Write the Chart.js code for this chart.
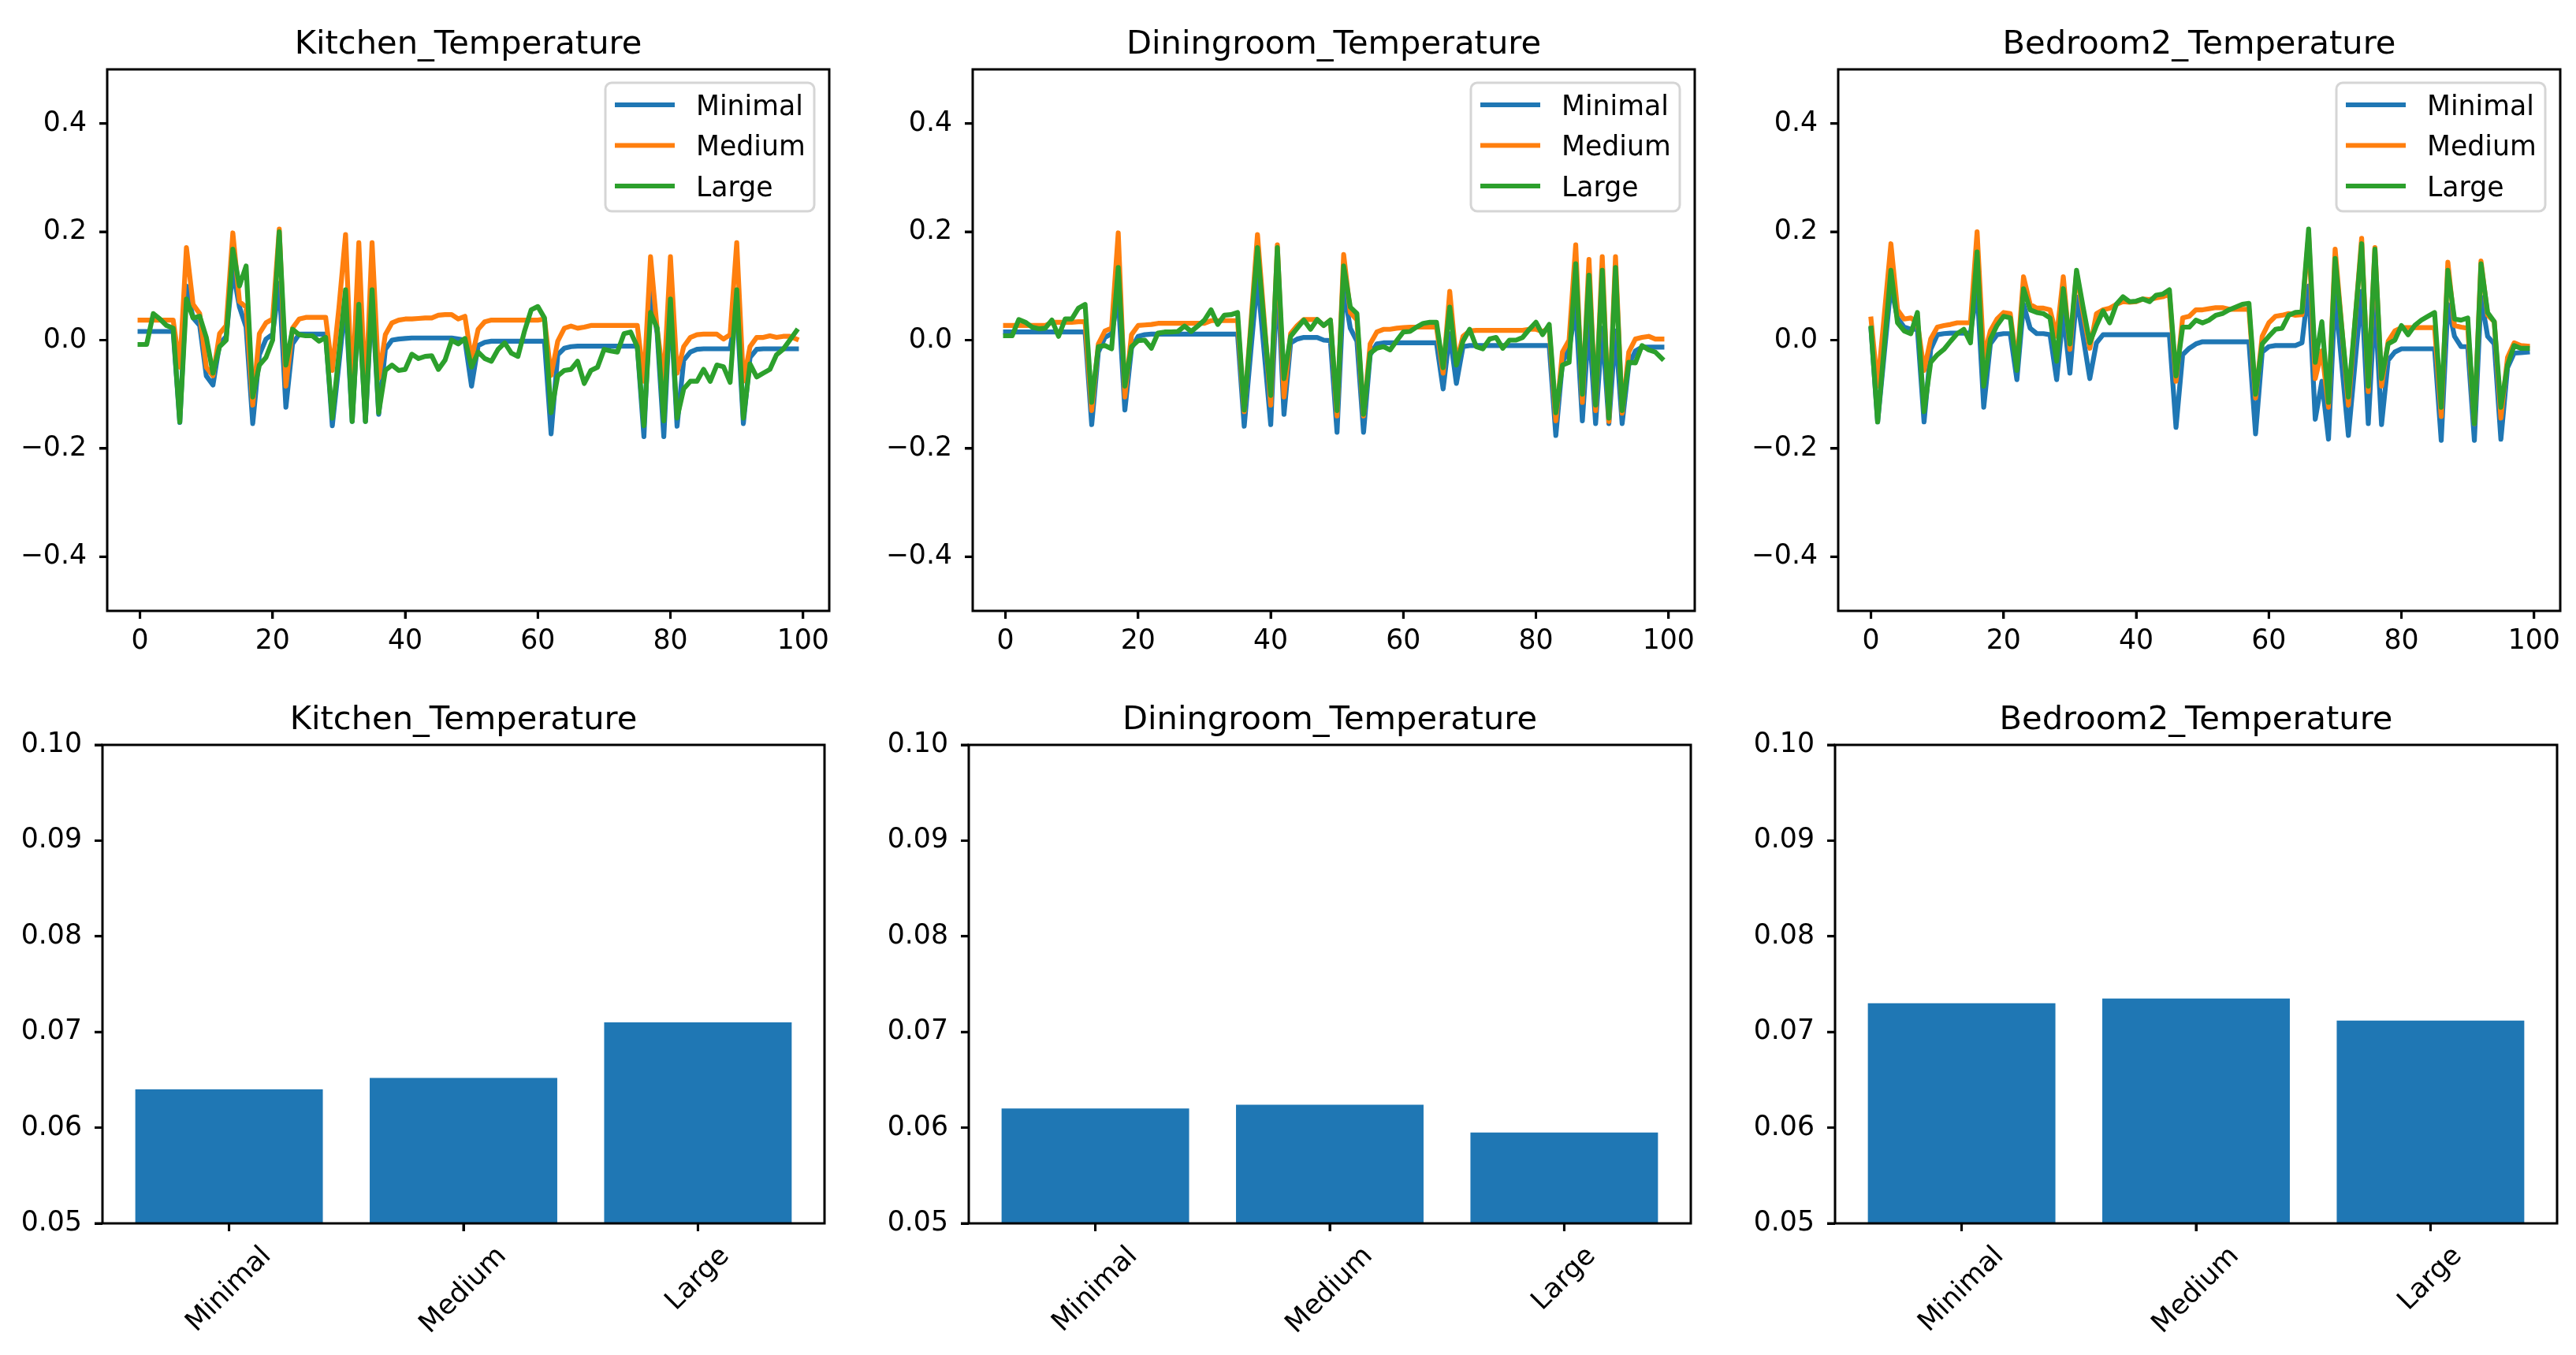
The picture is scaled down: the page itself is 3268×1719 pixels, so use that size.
<!DOCTYPE html>
<html>
<head>
<meta charset="utf-8">
<script src="https://cdn.jsdelivr.net/npm/chart.js@4.4.1/dist/chart.umd.min.js"></script>
<style>
html, body { margin: 0; padding: 0; background: #fff; }
#fig { position: relative; width: 3268px; height: 1719px; overflow: hidden; }
canvas { position: absolute; }
</style>
</head>
<body>
<div id="fig"></div>
<script>
// ---- data ----
const steps = Array.from({ length: 100 }, (_, i) => i);
const seriesNames = ["Minimal", "Medium", "Large"];
const roomTitles = ["Kitchen_Temperature", "Diningroom_Temperature", "Bedroom2_Temperature"];

const kitchenMinimal = [
  0.016, 0.016, 0.016, 0.016, 0.016, 0.016, -0.152, 0.100, 0.041, 0.027,
  -0.066, -0.083, -0.007, 0.007, 0.129, 0.061, 0.024, -0.154, -0.027, 0.002,
  0.011, 0.105, -0.124, -0.007, 0.011, 0.011, 0.011, 0.011, 0.011, -0.158,
  -0.044, 0.070, -0.150, 0.073, -0.150, 0.080, -0.137, -0.017, 0.000, 0.002,
  0.003, 0.004, 0.004, 0.004, 0.004, 0.004, 0.004, 0.004, 0.002, 0.000,
  -0.085, -0.010, -0.004, -0.002, -0.002, -0.002, -0.002, -0.002, -0.002, -0.002,
  -0.002, -0.002, -0.173, -0.027, -0.015, -0.012, -0.011, -0.011, -0.011, -0.011,
  -0.011, -0.011, -0.011, -0.011, -0.011, -0.011, -0.178, 0.090, 0.012, -0.178,
  0.070, -0.159, -0.037, -0.022, -0.017, -0.016, -0.016, -0.016, -0.016, -0.016,
  0.060, -0.154, -0.032, -0.017, -0.016, -0.016, -0.016, -0.016, -0.016, -0.016
];
const kitchenMedium = [
  0.037, 0.037, 0.037, 0.037, 0.037, 0.037, -0.050, 0.171, 0.066, 0.049,
  -0.050, -0.066, 0.012, 0.027, 0.198, 0.071, 0.061, -0.120, 0.012, 0.032,
  0.039, 0.205, -0.085, 0.022, 0.039, 0.042, 0.042, 0.042, 0.042, -0.056,
  0.060, 0.195, -0.100, 0.180, -0.110, 0.180, -0.070, 0.010, 0.032, 0.037,
  0.039, 0.039, 0.040, 0.041, 0.041, 0.046, 0.047, 0.047, 0.039, 0.044,
  -0.035, 0.020, 0.034, 0.037, 0.037, 0.037, 0.037, 0.037, 0.037, 0.037,
  0.037, 0.039, -0.065, -0.002, 0.022, 0.026, 0.022, 0.024, 0.027, 0.027,
  0.027, 0.027, 0.027, 0.027, 0.027, 0.027, -0.076, 0.154, 0.020, -0.076,
  0.154, -0.061, -0.012, 0.005, 0.010, 0.011, 0.011, 0.011, 0.002, 0.010,
  0.180, -0.076, -0.012, 0.005, 0.005, 0.008, 0.005, 0.007, 0.007, 0.002
];
const kitchenLarge = [
  -0.008, -0.008, 0.049, 0.039, 0.027, 0.022, -0.151, 0.076, 0.041, 0.044,
  0.005, -0.061, -0.012, 0.000, 0.168, 0.100, 0.137, -0.105, -0.046, -0.032,
  0.000, 0.200, -0.046, 0.020, 0.010, 0.008, 0.008, -0.002, 0.005, -0.144,
  -0.025, 0.093, -0.150, 0.066, -0.150, 0.093, -0.134, -0.056, -0.046, -0.056,
  -0.054, -0.026, -0.034, -0.030, -0.029, -0.054, -0.037, 0.000, -0.007, 0.003,
  -0.050, -0.022, -0.034, -0.039, -0.017, -0.005, -0.024, -0.030, 0.017, 0.056,
  0.062, 0.041, -0.134, -0.066, -0.056, -0.054, -0.039, -0.080, -0.056, -0.050,
  -0.017, -0.020, -0.022, 0.012, 0.015, -0.012, -0.158, 0.051, 0.022, -0.149,
  0.076, -0.144, -0.090, -0.076, -0.076, -0.054, -0.076, -0.046, -0.049, -0.078,
  0.093, -0.144, -0.044, -0.068, -0.061, -0.054, -0.027, -0.017, 0.000, 0.017
];

const diningMinimal = [
  0.015, 0.015, 0.015, 0.015, 0.015, 0.015, 0.015, 0.015, 0.015, 0.015,
  0.015, 0.015, 0.015, -0.156, -0.022, 0.005, 0.012, 0.080, -0.129, -0.015,
  0.007, 0.010, 0.011, 0.011, 0.011, 0.011, 0.011, 0.011, 0.011, 0.011,
  0.011, 0.011, 0.011, 0.011, 0.011, 0.011, -0.159, -0.020, 0.115, -0.020,
  -0.156, 0.120, -0.137, -0.005, 0.002, 0.005, 0.005, 0.005, 0.000, -0.001,
  -0.170, 0.095, 0.022, -0.002, -0.170, -0.027, -0.007, -0.005, -0.005, -0.005,
  -0.005, -0.005, -0.005, -0.005, -0.005, -0.005, -0.090, 0.012, -0.080, -0.012,
  -0.010, -0.010, -0.010, -0.010, -0.010, -0.010, -0.010, -0.010, -0.010, -0.010,
  -0.010, -0.010, -0.010, -0.176, -0.041, -0.017, 0.061, -0.149, 0.032, -0.154,
  0.022, -0.154, 0.017, -0.154, -0.046, -0.020, -0.013, -0.013, -0.013, -0.013
];
const diningMedium = [
  0.027, 0.027, 0.027, 0.027, 0.027, 0.027, 0.027, 0.033, 0.033, 0.033,
  0.033, 0.034, 0.034, -0.130, -0.007, 0.017, 0.022, 0.198, -0.105, 0.010,
  0.027, 0.028, 0.029, 0.031, 0.031, 0.031, 0.031, 0.031, 0.031, 0.031,
  0.031, 0.036, 0.036, 0.036, 0.036, 0.036, -0.132, 0.030, 0.195, 0.040,
  -0.120, 0.176, -0.105, 0.012, 0.027, 0.038, 0.038, 0.038, 0.027, 0.037,
  -0.140, 0.158, 0.051, 0.037, -0.140, -0.007, 0.015, 0.020, 0.020, 0.022,
  0.023, 0.024, 0.024, 0.024, 0.024, 0.024, -0.061, 0.090, -0.041, 0.007,
  0.017, 0.018, 0.018, 0.018, 0.018, 0.018, 0.018, 0.018, 0.018, 0.020,
  0.020, 0.016, 0.022, -0.149, -0.022, 0.000, 0.176, -0.115, 0.149, -0.130,
  0.154, -0.150, 0.154, -0.135, -0.022, 0.002, 0.005, 0.007, 0.002, 0.002
];
const diningLarge = [
  0.008, 0.008, 0.038, 0.033, 0.024, 0.021, 0.022, 0.037, 0.007, 0.039,
  0.039, 0.059, 0.066, -0.115, -0.012, -0.010, -0.016, 0.134, -0.085, -0.012,
  -0.001, 0.000, -0.015, 0.013, 0.015, 0.015, 0.016, 0.026, 0.016, 0.026,
  0.037, 0.056, 0.029, 0.046, 0.047, 0.051, -0.129, 0.020, 0.171, 0.030,
  -0.102, 0.171, -0.071, 0.007, 0.022, 0.037, 0.020, 0.038, 0.027, 0.037,
  -0.130, 0.137, 0.061, 0.049, -0.137, -0.024, -0.015, -0.012, -0.018, -0.001,
  0.015, 0.016, 0.024, 0.031, 0.033, 0.033, -0.051, 0.061, -0.046, -0.002,
  0.020, -0.012, -0.016, 0.002, 0.005, -0.015, 0.000, 0.000, 0.005, 0.020,
  0.033, 0.010, 0.029, -0.134, -0.046, -0.041, 0.141, -0.100, 0.120, -0.120,
  0.129, -0.144, 0.134, -0.130, -0.041, -0.042, -0.010, -0.018, -0.022, -0.034
];

const bedroomMinimal = [
  0.020, -0.151, -0.025, 0.100, 0.041, 0.024, 0.020, 0.020, -0.151, -0.017,
  0.010, 0.012, 0.013, 0.013, 0.013, 0.013, 0.095, -0.124, -0.007, 0.010,
  0.012, 0.012, -0.073, 0.066, 0.022, 0.012, 0.012, 0.010, -0.073, 0.050,
  -0.061, 0.080, 0.005, -0.071, -0.005, 0.010, 0.010, 0.010, 0.010, 0.010,
  0.010, 0.010, 0.010, 0.010, 0.010, 0.010, -0.161, -0.027, -0.015, -0.007,
  -0.003, -0.003, -0.003, -0.003, -0.003, -0.003, -0.003, -0.003, -0.173, -0.022,
  -0.012, -0.010, -0.010, -0.010, -0.010, -0.005, 0.100, -0.146, -0.076, -0.183,
  0.085, -0.045, -0.176, -0.043, 0.090, -0.154, 0.070, -0.156, -0.037, -0.022,
  -0.016, -0.016, -0.016, -0.016, -0.016, -0.016, -0.185, 0.066, 0.007, -0.012,
  -0.012, -0.185, 0.080, 0.007, -0.007, -0.183, -0.051, -0.024, -0.023, -0.022
];
const bedroomMedium = [
  0.039, -0.085, 0.046, 0.178, 0.056, 0.039, 0.041, 0.032, -0.056, 0.002,
  0.024, 0.027, 0.029, 0.032, 0.032, 0.032, 0.200, -0.032, 0.017, 0.039,
  0.051, 0.049, -0.046, 0.117, 0.066, 0.059, 0.059, 0.056, 0.007, 0.117,
  -0.017, 0.125, 0.050, -0.015, 0.049, 0.056, 0.059, 0.066, 0.071, 0.070,
  0.071, 0.076, 0.075, 0.078, 0.080, 0.085, -0.076, 0.041, 0.044, 0.056,
  0.056, 0.058, 0.060, 0.060, 0.057, 0.057, 0.057, 0.057, -0.107, 0.007,
  0.032, 0.044, 0.046, 0.049, 0.046, 0.047, 0.195, -0.071, -0.020, -0.124,
  0.168, 0.024, -0.120, 0.034, 0.188, -0.095, 0.171, -0.085, -0.002, 0.017,
  0.023, 0.023, 0.023, 0.023, 0.023, 0.023, -0.141, 0.144, 0.027, 0.024,
  0.022, -0.154, 0.146, 0.046, 0.034, -0.144, -0.032, -0.005, -0.010, -0.011
];
const bedroomLarge = [
  0.022, -0.151, -0.011, 0.129, 0.032, 0.017, 0.012, 0.051, -0.132, -0.041,
  -0.027, -0.017, -0.002, 0.012, 0.020, -0.005, 0.163, -0.085, 0.002, 0.027,
  0.044, 0.041, -0.056, 0.095, 0.056, 0.051, 0.049, 0.041, -0.039, 0.095,
  -0.007, 0.129, 0.060, -0.005, 0.027, 0.054, 0.032, 0.066, 0.080, 0.071,
  0.072, 0.076, 0.071, 0.083, 0.085, 0.093, -0.066, 0.024, 0.024, 0.037,
  0.032, 0.037, 0.046, 0.049, 0.056, 0.061, 0.066, 0.068, -0.100, -0.007,
  0.007, 0.020, 0.022, 0.046, 0.051, 0.052, 0.205, -0.041, 0.034, -0.115,
  0.151, 0.023, -0.105, 0.036, 0.178, -0.085, 0.168, -0.071, -0.007, 0.000,
  0.027, 0.010, 0.027, 0.037, 0.044, 0.051, -0.124, 0.129, 0.039, 0.037,
  0.041, -0.154, 0.141, 0.051, 0.034, -0.124, -0.046, -0.010, -0.015, -0.015
];

const barLabels = ["Minimal", "Medium", "Large"];
const barPositions = [0, 1, 2];
const kitchenBars = [0.0640, 0.0652, 0.0710];
const diningBars = [0.0620, 0.0624, 0.0595];
const bedroomBars = [0.0730, 0.0735, 0.0712];

const lineXTicks = [0, 20, 40, 60, 80, 100];
const lineYTicks = [-0.4, -0.2, 0.0, 0.2, 0.4];
const barYTicks = [0.05, 0.06, 0.07, 0.08, 0.09, 0.10];

// ---- layout ----
const FS = 34.7;
const TITLE_FS = 41.6;
const FONT = "'DejaVu Sans', sans-serif";
const YW = 130, PT = 80, PR = 12;
const AX_LW = 3;
const TICK_LEN = 10;
const LINE_LW = 6.2;
const COLORS = ["#1f77b4", "#ff7f0e", "#2ca02c"];

Chart.defaults.font.family = FONT;
Chart.defaults.font.size = FS;
Chart.defaults.color = "#000";

const fig = document.getElementById("fig");

function addCanvas(axLeft, axTop, axW, axH, bottomSpace) {
    const c = document.createElement("canvas");
    const w = YW + axW + PR, h = PT + axH + bottomSpace;
    c.width = w;
    c.height = h;
    c.style.left = (axLeft - YW) + "px";
    c.style.top = (axTop - PT) + "px";
    c.style.width = w + "px";
    c.style.height = h + "px";
    fig.appendChild(c);
    return c;
}

function minusFmt(v, digits) {
    const s = Math.abs(v).toFixed(digits);
    return v < -1e-9 ? "\u2212" + s : s;
}

function axisOpts(extra) {
    return Object.assign({
        grid: { offset: false, drawOnChartArea: false, drawTicks: true, tickLength: TICK_LEN, color: "#000", lineWidth: AX_LW },
        border: { display: false }
    }, extra);
}

// spines, tick marks and title, drawn last
function framePlugin(title) {
    return {
        id: "frameTitle",
        afterDraw(chart) {
            const a = chart.chartArea, ctx = chart.ctx;
            const xs = chart.scales.x, ys = chart.scales.y;
            ctx.save();
            ctx.strokeStyle = "#000";
            ctx.lineWidth = AX_LW;
            ctx.strokeRect(a.left, a.top, a.right - a.left, a.bottom - a.top);
            ctx.beginPath();
            xs.ticks.forEach(t => {
                const px = xs.getPixelForValue(t.value);
                ctx.moveTo(px, a.bottom);
                ctx.lineTo(px, a.bottom + TICK_LEN);
            });
            ys.ticks.forEach(t => {
                const py = ys.getPixelForValue(t.value);
                ctx.moveTo(a.left - TICK_LEN, py);
                ctx.lineTo(a.left, py);
            });
            ctx.stroke();
            ctx.fillStyle = "#000";
            ctx.font = TITLE_FS + "px " + FONT;
            ctx.textAlign = "center";
            ctx.textBaseline = "alphabetic";
            ctx.fillText(title, (a.left + a.right) / 2, a.top - 20);
            ctx.restore();
        }
    };
}

const legendPlugin = {
    id: "mplLegend",
    afterDraw(chart) {
        const a = chart.chartArea, ctx = chart.ctx;
        ctx.save();
        ctx.fillStyle = "rgba(255,255,255,0.8)";
        ctx.strokeStyle = "#d5d5d5";
        ctx.lineWidth = 3;
        ctx.beginPath();
        ctx.roundRect(a.right - 284, a.top + 17, 265, 163, 8);
        ctx.fill();
        ctx.stroke();
        ctx.font = FS + "px " + FONT;
        ctx.textAlign = "left";
        ctx.textBaseline = "alphabetic";
        chart.data.datasets.forEach((ds, i) => {
            const y = a.top + 45 + i * 51.5;
            ctx.strokeStyle = ds.borderColor;
            ctx.lineWidth = LINE_LW;
            ctx.beginPath();
            ctx.moveTo(a.right - 272, y);
            ctx.lineTo(a.right - 196, y);
            ctx.stroke();
            ctx.fillStyle = "#000";
            ctx.fillText(ds.label, a.right - 169, y + 12.5);
        });
        ctx.restore();
    }
};

const rotatedLabels = {
    id: "rotatedLabels",
    afterDraw(chart) {
        const a = chart.chartArea, ctx = chart.ctx, xs = chart.scales.x;
        ctx.save();
        ctx.font = FS + "px " + FONT;
        ctx.fillStyle = "#000";
        ctx.textAlign = "center";
        ctx.textBaseline = "middle";
        chart.data.labels.forEach((lab, i) => {
            const x = xs.getPixelForValue(barPositions[i]);
            const w = ctx.measureText(lab).width, h = FS * 1.16;
            const cy = a.bottom + 22 + (w + h) * Math.SQRT1_2 / 2;
            ctx.save();
            ctx.translate(x, cy);
            ctx.rotate(-Math.PI / 4);
            ctx.fillText(lab, 0, 0);
            ctx.restore();
        });
        ctx.restore();
    }
};

function createLineChart(left, title, minimal, medium, large) {
    const canvas = addCanvas(left, 88, 916, 687, 150);
    const lists = [minimal, medium, large];
    new Chart(canvas, {
        type: "line",
        data: {
            labels: steps,
            datasets: lists.map((d, i) => ({
                label: seriesNames[i],
                data: d,
                borderColor: COLORS[i],
                borderWidth: LINE_LW,
                pointRadius: 0,
                tension: 0,
                fill: false,
                borderJoinStyle: "round",
                borderCapStyle: "square",
                order: 3 - i
            }))
        },
        options: {
            responsive: false,
            animation: false,
            devicePixelRatio: 1,
            events: [],
            layout: { padding: { top: PT, right: PR, left: 0, bottom: 0 } },
            plugins: { legend: { display: false }, tooltip: { enabled: false } },
            scales: {
                x: axisOpts({
                    type: "linear", min: -4.95, max: 103.95,
                    afterBuildTicks: s => { s.ticks = lineXTicks.map(v => ({ value: v })); },
                    afterFit: s => { s.height = 150; },
                    ticks: { callback: v => String(v), padding: 8, maxRotation: 0, autoSkip: false, color: "#000" }
                }),
                y: axisOpts({
                    min: -0.5, max: 0.5,
                    afterBuildTicks: s => { s.ticks = lineYTicks.map(v => ({ value: v })); },
                    afterFit: s => { s.width = YW; },
                    ticks: { callback: v => minusFmt(v, 1), padding: 16, color: "#000" }
                })
            }
        },
        plugins: [legendPlugin, framePlugin(title)]
    });
}

function createBarChart(left, title, values) {
    const canvas = addCanvas(left, 945, 916, 607, 167);
    new Chart(canvas, {
        type: "bar",
        data: {
            labels: barLabels,
            datasets: [{
                label: title,
                data: values.map((v, i) => ({ x: barPositions[i], y: v })),
                backgroundColor: COLORS[0],
                borderWidth: 0,
                categoryPercentage: 1.0,
                barPercentage: 0.8
            }]
        },
        options: {
            responsive: false,
            animation: false,
            devicePixelRatio: 1,
            events: [],
            layout: { padding: { top: PT, right: PR, left: 0, bottom: 0 } },
            plugins: { legend: { display: false }, tooltip: { enabled: false } },
            scales: {
                x: axisOpts({
                    type: "linear", min: -0.54, max: 2.54, offset: false,
                    afterBuildTicks: s => { s.ticks = barPositions.map(v => ({ value: v })); },
                    afterFit: s => { s.height = 167; },
                    ticks: { display: false }
                }),
                y: axisOpts({
                    min: 0.05, max: 0.10,
                    afterBuildTicks: s => { s.ticks = barYTicks.map(v => ({ value: v })); },
                    afterFit: s => { s.width = YW; },
                    ticks: { callback: v => minusFmt(v, 2), padding: 16, color: "#000" }
                })
            }
        },
        plugins: [rotatedLabels, framePlugin(title)]
    });
}

createLineChart(136, roomTitles[0], kitchenMinimal, kitchenMedium, kitchenLarge);
createLineChart(1234, roomTitles[1], diningMinimal, diningMedium, diningLarge);
createLineChart(2332, roomTitles[2], bedroomMinimal, bedroomMedium, bedroomLarge);

createBarChart(130, roomTitles[0], kitchenBars);
createBarChart(1229, roomTitles[1], diningBars);
createBarChart(2328, roomTitles[2], bedroomBars);
</script>
</body>
</html>
